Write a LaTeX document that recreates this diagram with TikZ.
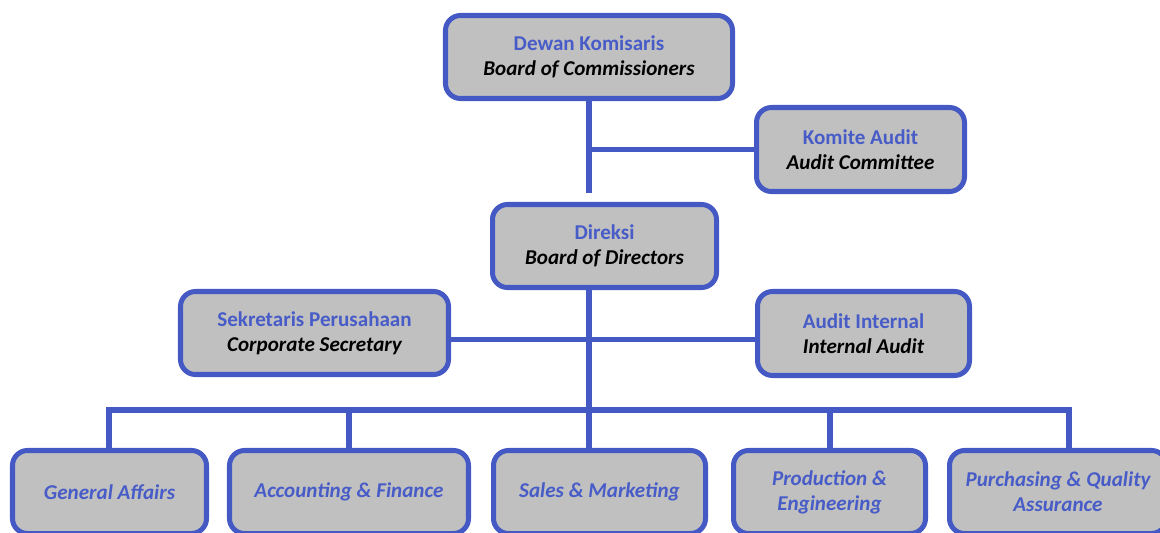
\documentclass[tikz,border=0pt]{standalone}
\usepackage{fontspec}
\setmainfont{Carlito}
\definecolor{orgblue}{RGB}{68,89,196}
\definecolor{orgtext}{RGB}{72,92,200}
\definecolor{orggray}{RGB}{192,192,192}
\tikzset{
    box/.style={draw=orgblue, fill=orggray, line width=2.85pt, rounded corners=0.3cm,
        align=center, inner sep=0pt, font=\fontsize{12}{14.3}\selectfont\bfseries},
    link/.style={draw=orgblue, line width=3pt}
}
\newcommand{\id}[1]{{\color{orgtext}#1}}
\newcommand{\en}[1]{{\itshape #1}}
\newcommand{\dept}[1]{{\color{orgtext}\itshape #1}}

\begin{document}
\begin{tikzpicture}
    \useasboundingbox (0,0) rectangle (23.2,10.64);
    \clip (0,0) rectangle (23.2,10.64);
    %\draw[very thin,color=gray] (0,0) grid (23.2,10.64);
    \node [box, minimum width=5.74cm, minimum height=1.66cm] (bc) at (11.78,9.50) {\id{Dewan Komisaris}\\\en{Board of Commissioners}};
    \node [box, minimum width=4.16cm, minimum height=1.68cm] (ac) at (17.21,7.65) {\id{Komite Audit}\\\en{Audit Committee}};
    \node [box, minimum width=4.48cm, minimum height=1.66cm] (dir) at (12.09,5.72) {\id{Direksi}\\\en{Board of Directors}};
    \node [box, minimum width=5.36cm, minimum height=1.66cm] (cs) at (6.29,3.98) {\id{Sekretaris Perusahaan}\\\en{Corporate Secretary}};
    \node [box, minimum width=4.24cm, minimum height=1.68cm] (ia) at (17.27,3.97) {\id{Audit Internal}\\\en{Internal Audit}};

    \node [box, minimum width=3.88cm, minimum height=1.66cm] (ga) at (2.19,0.80) {\dept{General Affairs}};
    \node [box, minimum width=4.78cm, minimum height=1.66cm] (af) at (6.98,0.80) {\dept{Accounting \& Finance}};
    \node [box, minimum width=4.24cm, minimum height=1.66cm] (sm) at (11.99,0.80) {\dept{Sales \& Marketing}};
    \node [box, minimum width=3.84cm, minimum height=1.66cm] (pe) at (16.59,0.80) {\dept{Production \&}\\\dept{Engineering}};
    \node [box, minimum width=4.34cm, minimum height=1.66cm] (pq) at (21.16,0.80) {\dept{Purchasing \& Quality}\\\dept{Assurance}};

    \coordinate (bus) at (11.78,2.44);
    \coordinate (b1) at (2.18,2.44);
    \coordinate (b2) at (6.98,2.44);
    \coordinate (b4) at (16.60,2.44);
    \coordinate (b5) at (21.38,2.44);

    \draw [link] (bc.south) -- ([yshift=0.17cm]bc.south |- dir.north);
    \draw [link] (bc.south |- ac.west) -- (ac.west);
    \draw [link] (dir.south -| bus) -- (bus);
    \draw [link] ([yshift=-0.13cm]cs.east) -- ([yshift=-0.13cm]cs.east -| ia.west);
    \draw [link] ([xshift=-1.5pt]b1) -- ([xshift=1.5pt]b5);
    \draw [link] (b1) -- (b1 |- ga.north);
    \draw [link] (b2) -- (b2 |- af.north);
    \draw [link] (bus) -- (bus |- sm.north);
    \draw [link] (b4) -- (b4 |- pe.north);
    \draw [link] (b5) -- (b5 |- pq.north);
\end{tikzpicture}
\end{document}
